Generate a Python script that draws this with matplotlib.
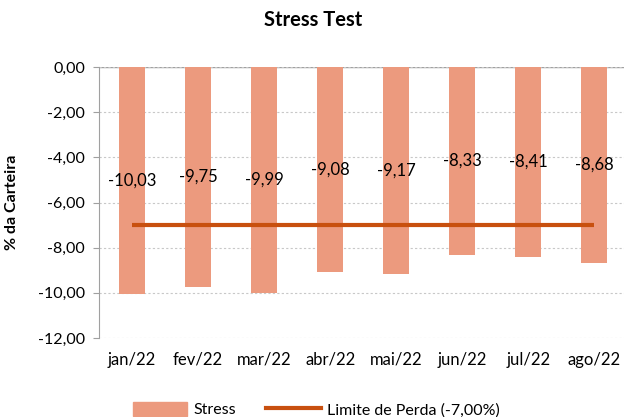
import matplotlib
matplotlib.use('Agg')
import matplotlib.pyplot as plt
from matplotlib.lines import Line2D
from matplotlib.patches import Patch

meses = ['jan/22', 'fev/22', 'mar/22', 'abr/22', 'mai/22', 'jun/22', 'jul/22', 'ago/22']
stress = [-10.03, -9.75, -9.99, -9.08, -9.17, -8.33, -8.41, -8.68]
limite = -7.00

plt.rcParams['font.family'] = ['Lato', 'DejaVu Sans']

cor_barra = '#EC9A7E'
cor_linha = '#C8500F'

fig = plt.figure(figsize=(6.24, 4.17), dpi=100)
ax = fig.add_axes([99 / 624, 1 - 338 / 417, 525 / 624, 271 / 417])

x = list(range(len(meses)))
ax.bar(x, stress, width=0.39, color=cor_barra, zorder=2)
ax.plot([x[0], x[-1]], [limite, limite], color=cor_linha, linewidth=3,
        solid_capstyle='butt', zorder=3)

for xi, v in zip(x, stress):
    ax.text(xi, v / 2, '{:.2f}'.format(v).replace('.', ','), ha='center',
            va='center', fontsize=12, zorder=4)

ax.set_xlim(-0.5, 7.45)
ax.set_ylim(-12, 0)
ax.set_yticks([0, -2, -4, -6, -8, -10, -12])
ax.set_yticklabels(['{:.2f}'.format(t).replace('.', ',') for t in ax.get_yticks()],
                   fontsize=11.5)
ax.set_xticks(x)
ax.set_xticklabels(meses, fontsize=12)
ax.tick_params(axis='x', length=0, pad=10)
ax.tick_params(axis='y', length=4, color='#A0A0A0', pad=6)
ax.yaxis.grid(True, linestyle=(0, (2, 2)), color='#C8C8C8', linewidth=0.8, zorder=0)
ax.axhline(0, color='#A0A0A0', linewidth=1, zorder=1)
for s in ['top', 'right', 'bottom']:
    ax.spines[s].set_visible(False)
ax.spines['left'].set_color('#A0A0A0')

ax.set_ylabel('% da Carteira', fontsize=11.5, fontweight='bold', labelpad=14)
fig.suptitle('Stress Test', x=0.502, y=0.975, fontsize=14.5, fontweight='bold')

handles = [Patch(color=cor_barra, label='Stress'),
           Line2D([0], [0], color=cor_linha, linewidth=3, label='Limite de Perda (-7,00%)')]
fig.legend(handles=handles, loc='lower center', ncol=2, frameon=False,
           fontsize=11.5, bbox_to_anchor=(0.507, -0.035), handlelength=3.4,
           handleheight=1, columnspacing=1.9, handletextpad=0.4)

fig.savefig('out.png', dpi=100)
